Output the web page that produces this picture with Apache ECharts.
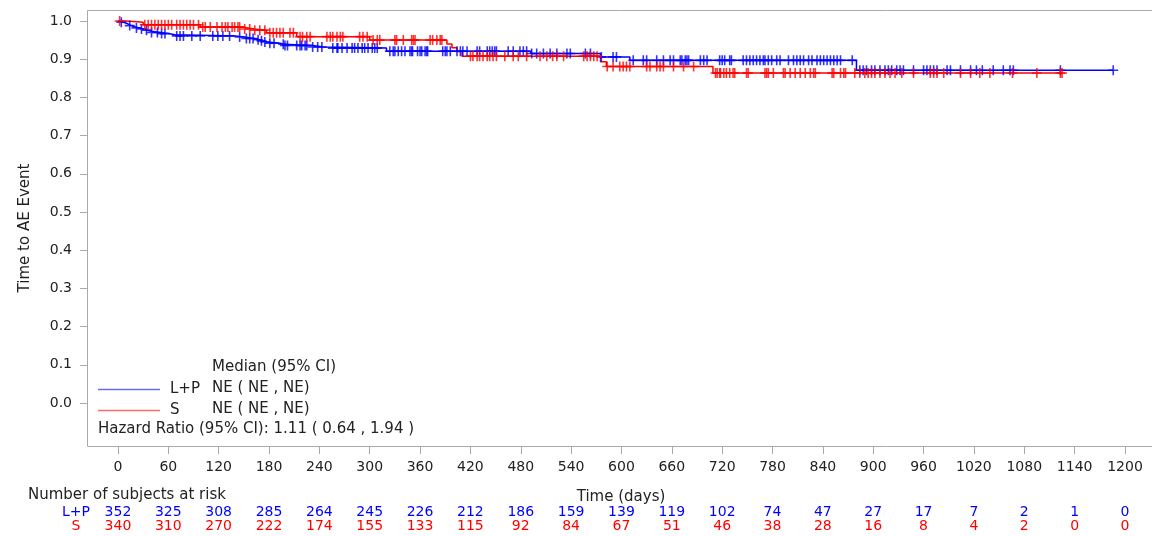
<!DOCTYPE html>
<html>
<head>
<meta charset="utf-8">
<script src="https://cdn.jsdelivr.net/npm/echarts@6/dist/echarts.min.js"></script>
<style>
html,body{margin:0;padding:0;background:#fff;}
#chart{width:1152px;height:536px;}
</style>
</head>
<body>
<div id="chart"></div>
<script>
// ---------- DATA ----------
const xTickLabels = [0,60,120,180,240,300,360,420,480,540,600,660,720,780,840,900,960,1020,1080,1140,1200];
const yTickLabels = [0.0,0.1,0.2,0.3,0.4,0.5,0.6,0.7,0.8,0.9,1.0];

// L+P Kaplan-Meier step curve (event day, survival after event)
const lpEventDays = [0,2,6,10,13,16,20,25,30,35,40,50,60,68,140,150,162,168,172,178,193,198,232,245,320,492,575,610,880];
const lpEventSurv = [1,0.997,0.994,0.991,0.988,0.985,0.982,0.979,0.976,0.973,0.970,0.967,0.964,0.961,0.958,0.954,0.951,0.948,0.945,0.942,0.939,0.936,0.932,0.929,0.921,0.915,0.906,0.897,0.871];
const lpLastDay = 1186;
const lpCensorDays = [4,14,22,28,34,40,47,52,56,70,74,78,88,98,113,119,125,133,145,153,157,161,167,171,175,181,186,197,199,202,213,217,219,223,225,232,238,243,256,261,262,267,273,279,282,286,291,294,298,303,306,309,324,328,330,334,338,342,348,350,351,357,360,362,366,368,369,387,390,392,396,404,408,411,416,428,431,440,443,446,449,451,465,471,479,483,487,493,499,507,515,523,535,539,557,563,576,590,594,614,626,630,642,650,658,662,670,672,676,678,680,694,698,702,717,720,723,729,731,745,749,753,757,761,765,769,771,775,779,785,789,799,805,809,813,817,823,827,833,837,841,845,849,853,857,861,875,884,888,892,898,902,908,914,918,922,928,932,936,948,960,964,968,972,976,988,992,1004,1016,1023,1030,1043,1055,1063,1067,1123,1186];

// S Kaplan-Meier step curve
const sEventDays = [0,10,30,98,150,162,177,213,300,392,398,404,410,575,582,709];
const sEventSurv = [1,0.997,0.990,0.984,0.979,0.976,0.969,0.959,0.950,0.940,0.930,0.920,0.908,0.893,0.881,0.864];
const sLastDay = 1125;
const sCensorDays = [2,32,36,40,44,48,52,56,60,64,70,74,78,82,86,90,96,101,104,110,118,124,128,131,136,139,143,145,151,157,163,169,175,181,185,189,193,197,205,209,217,220,225,229,249,253,256,261,265,268,288,292,297,304,309,312,330,332,340,350,352,354,372,375,380,384,386,420,423,428,431,435,440,443,447,451,461,471,477,487,503,511,518,523,531,555,559,563,567,571,583,590,598,602,606,610,630,634,642,646,650,662,674,686,712,714,717,718,722,725,729,733,735,749,751,771,773,775,781,793,795,801,807,813,819,825,829,831,851,853,861,865,867,878,884,890,894,898,902,908,914,920,926,934,948,968,972,976,984,1004,1016,1027,1039,1066,1095,1123,1125];

// Number at risk
const lpRisk = [352,325,308,285,264,245,226,212,186,159,139,119,102,74,47,27,17,7,2,1,0];
const sRisk  = [340,310,270,222,174,155,133,115,92,84,67,51,46,38,28,16,8,4,2,0,0];

// ---------- BUILD ----------
function survAt(days, surv, t){
  let s = surv[0];
  for (let i=0;i<days.length;i++){ if (days[i] <= t) s = surv[i]; }
  return s;
}
function stepData(days, surv, last){
  const d = days.map((t,i)=>[t, surv[i]]);
  d.push([last, surv[surv.length-1]]);
  return d;
}
const FONT = "'DejaVu Sans', Verdana, sans-serif";
const FS = 14;          // tick labels and numbers
const F = '15px ' + FONT; // titles and legend texts
const TXT = '#222222';
const GRAY = '#aaaaaa';
const BLUE = '#0000ff';
const RED = '#ff0000';
const PLUS = 'path://M4.2,0h1.6v4.2h4.2v1.6h-4.2v4.2h-1.6v-4.2h-4.2v-1.6h4.2z';

// axis extent of the framed plot area (frame from x=87..1152, y=10..447)
const X_MIN = -36.9, X_MAX = 1232.2;
const Y_MIN = -0.1152, Y_MAX = 1.0288;

const chart = echarts.init(document.getElementById('chart'), null, {renderer:'canvas'});
const xStep = xTickLabels[1]-xTickLabels[0];
const baseX = {
  type:'value', gridIndex:0, min:X_MIN, max:X_MAX,
  splitLine:{show:false}, axisLine:{show:false, onZero:false}, position:'bottom'
};
const option = {
  animation:false,
  textStyle:{fontFamily:FONT},
  grid:[{left:87, right:0, top:10, bottom:89, containLabel:false}],
  xAxis:[
    Object.assign({}, baseX, {
      axisTick:{show:true, length:7, lineStyle:{color:GRAY}, customValues:xTickLabels},
      axisLabel:{show:true, margin:13, fontSize:FS, color:TXT, fontFamily:FONT, customValues:xTickLabels,
        formatter:(v)=>String(v)}
    }),
    Object.assign({}, baseX, {
      offset:58,
      axisTick:{show:false},
      axisLabel:{show:true, margin:0, fontSize:FS, color:BLUE, fontFamily:FONT, customValues:xTickLabels,
        formatter:(v)=>String(lpRisk[Math.round(v/xStep)])}
    }),
    Object.assign({}, baseX, {
      offset:72,
      axisTick:{show:false},
      axisLabel:{show:true, margin:0, fontSize:FS, color:RED, fontFamily:FONT, customValues:xTickLabels,
        formatter:(v)=>String(sRisk[Math.round(v/xStep)])}
    })
  ],
  yAxis:[{
    type:'value', gridIndex:0, min:Y_MIN, max:Y_MAX,
    splitLine:{show:false}, axisLine:{show:false, onZero:false},
    axisTick:{show:true, length:7, lineStyle:{color:GRAY}, customValues:yTickLabels},
    axisLabel:{margin:15, fontSize:FS, color:TXT, fontFamily:FONT, customValues:yTickLabels,
      formatter:(v)=>Number(v).toFixed(1)}
  }],
  graphic:[
    {type:'rect', z:-1, shape:{x:87.5, y:10.5, width:1070, height:436}, style:{fill:'none', stroke:GRAY, lineWidth:1}},
    {type:'text', x:25, y:228, rotation:Math.PI/2, style:{text:'Time to AE Event', font:F, fill:TXT, align:'center', verticalAlign:'middle'}},
    {type:'text', x:621, y:497, style:{text:'Time (days)', font:F, fill:TXT, align:'center', verticalAlign:'middle'}},
    {type:'text', x:28, y:495, style:{text:'Number of subjects at risk', font:F, fill:TXT, align:'left', verticalAlign:'middle'}},
    {type:'text', x:76, y:512, style:{text:'L+P', font:FS+'px '+FONT, fill:BLUE, align:'center', verticalAlign:'middle'}},
    {type:'text', x:76, y:526, style:{text:'S', font:FS+'px '+FONT, fill:RED, align:'center', verticalAlign:'middle'}},
    {type:'line', shape:{x1:98, y1:389.5, x2:160, y2:389.5}, style:{stroke:'#6a6aff', lineWidth:1.5}},
    {type:'line', shape:{x1:98, y1:410.5, x2:160, y2:410.5}, style:{stroke:'#ff6a6a', lineWidth:1.5}},
    {type:'text', x:170, y:389, style:{text:'L+P', font:F, fill:TXT, align:'left', verticalAlign:'middle'}},
    {type:'text', x:170, y:410, style:{text:'S', font:F, fill:TXT, align:'left', verticalAlign:'middle'}},
    {type:'text', x:212, y:367, style:{text:'Median (95% CI)', font:F, fill:TXT, align:'left', verticalAlign:'middle'}},
    {type:'text', x:212, y:388, style:{text:'NE ( NE , NE)', font:F, fill:TXT, align:'left', verticalAlign:'middle'}},
    {type:'text', x:212, y:409, style:{text:'NE ( NE , NE)', font:F, fill:TXT, align:'left', verticalAlign:'middle'}},
    {type:'text', x:98, y:429, style:{text:'Hazard Ratio (95% CI): 1.11 ( 0.64 , 1.94 )', font:F, fill:TXT, align:'left', verticalAlign:'middle'}}
  ],
  series:[
    {name:'L+P', type:'line', step:'end', xAxisIndex:0, yAxisIndex:0, clip:false, showSymbol:false, symbol:'none',
     lineStyle:{color:BLUE, width:1.5}, data:stepData(lpEventDays, lpEventSurv, lpLastDay), z:3},
    {name:'S', type:'line', step:'end', xAxisIndex:0, yAxisIndex:0, clip:false, showSymbol:false, symbol:'none',
     lineStyle:{color:RED, width:1.5}, data:stepData(sEventDays, sEventSurv, sLastDay), z:3},
    {name:'L+P censored', type:'scatter', xAxisIndex:0, yAxisIndex:0, clip:false, symbol:PLUS, symbolSize:10,
     itemStyle:{color:BLUE}, data:lpCensorDays.map(t=>[t, survAt(lpEventDays, lpEventSurv, t)]), z:4},
    {name:'S censored', type:'scatter', xAxisIndex:0, yAxisIndex:0, clip:false, symbol:PLUS, symbolSize:10,
     itemStyle:{color:RED}, data:sCensorDays.map(t=>[t, survAt(sEventDays, sEventSurv, t)]), z:4}
  ]
};
chart.setOption(option);
</script>
</body>
</html>
